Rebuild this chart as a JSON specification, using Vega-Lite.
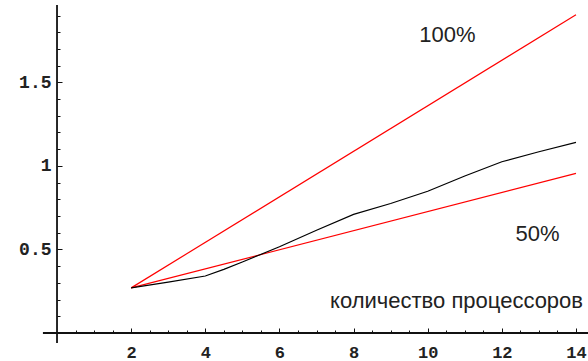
{
  "$schema": "https://vega.github.io/schema/vega-lite/v6.json",
  "width": 588,
  "height": 361,
  "autosize": "none",
  "padding": 0,
  "background": "white",
  "config": {"view": {"stroke": null}},
  "datasets": {
    "series": [
      {"x": 2, "y": 0.27, "s": "100%"},
      {"x": 14, "y": 1.905, "s": "100%"},
      {"x": 2, "y": 0.27, "s": "50%"},
      {"x": 14, "y": 0.955, "s": "50%"},
      {"x": 2, "y": 0.27, "s": "measured"},
      {"x": 3, "y": 0.305, "s": "measured"},
      {"x": 4, "y": 0.341, "s": "measured"},
      {"x": 4.5, "y": 0.381, "s": "measured"},
      {"x": 5, "y": 0.425, "s": "measured"},
      {"x": 6, "y": 0.516, "s": "measured"},
      {"x": 7, "y": 0.615, "s": "measured"},
      {"x": 8, "y": 0.71, "s": "measured"},
      {"x": 9, "y": 0.775, "s": "measured"},
      {"x": 10, "y": 0.848, "s": "measured"},
      {"x": 11, "y": 0.94, "s": "measured"},
      {"x": 12, "y": 1.025, "s": "measured"},
      {"x": 13, "y": 1.085, "s": "measured"},
      {"x": 14, "y": 1.141, "s": "measured"}
    ],
    "one": [{}]
  },
  "resolve": {"axis": {"x": "independent", "y": "independent"}},
  "layer": [
    {
      "data": {"name": "series"},
      "mark": {"type": "line", "strokeWidth": 1.2, "clip": true},
      "encoding": {
        "x": {
          "field": "x",
          "type": "quantitative",
          "scale": {"domain": [-1.538, 14.324], "nice": false, "zero": false},
          "axis": {
            "orient": "bottom",
            "offset": -28,
            "domain": false,
            "grid": false,
            "title": null,
            "values": [2, 4, 6, 8, 10, 12, 14],
            "tickSize": -5,
            "tickColor": "#111",
            "tickWidth": 1,
            "labelPadding": 16,
            "labelFont": "Liberation Mono",
            "labelFontWeight": "bold",
            "labelFontSize": 17,
            "labelColor": "#222",
            "labelFlush": false,
            "labelOverlap": false
          }
        },
        "y": {
          "field": "y",
          "type": "quantitative",
          "scale": {"domain": [-0.1676, 1.993], "nice": false, "zero": false},
          "axis": {
            "orient": "left",
            "offset": -57,
            "domain": false,
            "grid": false,
            "title": null,
            "format": ".1~f",
            "values": [0.5, 1, 1.5],
            "tickSize": -5,
            "tickColor": "#111",
            "tickWidth": 1,
            "labelPadding": 11,
            "labelFont": "Liberation Mono",
            "labelFontWeight": "bold",
            "labelFontSize": 18,
            "labelColor": "#222",
            "labelFlush": false,
            "labelOverlap": false
          }
        },
        "color": {
          "field": "s",
          "type": "nominal",
          "scale": {"domain": ["100%", "50%", "measured"], "range": ["#ff0000", "#ff0000", "#000000"]},
          "legend": null
        }
      }
    },
    {
      "data": {"name": "one"},
      "mark": {"type": "rule", "color": "#111", "strokeWidth": 1.8},
      "encoding": {
        "x": {
          "datum": 0,
          "type": "quantitative",
          "axis": {
            "orient": "bottom",
            "offset": -28,
            "domain": false,
            "grid": false,
            "title": null,
            "labels": false,
            "values": [0.5, 1, 1.5, 2.5, 3, 3.5, 4.5, 5, 5.5, 6.5, 7, 7.5, 8.5, 9, 9.5, 10.5, 11, 11.5, 12.5, 13, 13.5],
            "tickSize": -3,
            "tickColor": "#111",
            "tickWidth": 1
          }
        },
        "y": {
          "datum": -0.06,
          "type": "quantitative",
          "axis": {
            "orient": "left",
            "offset": -57,
            "domain": false,
            "grid": false,
            "title": null,
            "labels": false,
            "values": [0.1, 0.2, 0.3, 0.4, 0.6, 0.7, 0.8, 0.9, 1.1, 1.2, 1.3, 1.4, 1.6, 1.7, 1.8, 1.9],
            "tickSize": -3,
            "tickColor": "#111",
            "tickWidth": 1
          }
        },
        "y2": {"datum": 1.963}
      }
    },
    {
      "data": {"name": "one"},
      "mark": {"type": "rule", "color": "#111", "strokeWidth": 1.8},
      "encoding": {
        "y": {"datum": 0, "type": "quantitative", "axis": null},
        "x": {"datum": -0.38, "type": "quantitative", "axis": null},
        "x2": {"datum": 14.324}
      }
    },
    {
      "data": {"name": "one"},
      "mark": {"type": "text", "font": "Liberation Sans", "fontSize": 22, "color": "#222", "align": "center", "baseline": "alphabetic"},
      "encoding": {
        "x": {"datum": 10.53, "type": "quantitative", "axis": null},
        "y": {"datum": 1.743, "type": "quantitative", "axis": null},
        "text": {"value": "100%"}
      }
    },
    {
      "data": {"name": "one"},
      "mark": {"type": "text", "font": "Liberation Sans", "fontSize": 22, "color": "#222", "align": "center", "baseline": "alphabetic"},
      "encoding": {
        "x": {"datum": 12.96, "type": "quantitative", "axis": null},
        "y": {"datum": 0.5535, "type": "quantitative", "axis": null},
        "text": {"value": "50%"}
      }
    },
    {
      "data": {"name": "one"},
      "mark": {"type": "text", "font": "Liberation Sans", "fontSize": 22, "color": "#222", "align": "right", "baseline": "alphabetic"},
      "encoding": {
        "x": {"datum": 14.19, "type": "quantitative", "axis": null},
        "y": {"datum": 0.151, "type": "quantitative", "axis": null},
        "text": {"value": "количество процессоров"}
      }
    }
  ]
}
